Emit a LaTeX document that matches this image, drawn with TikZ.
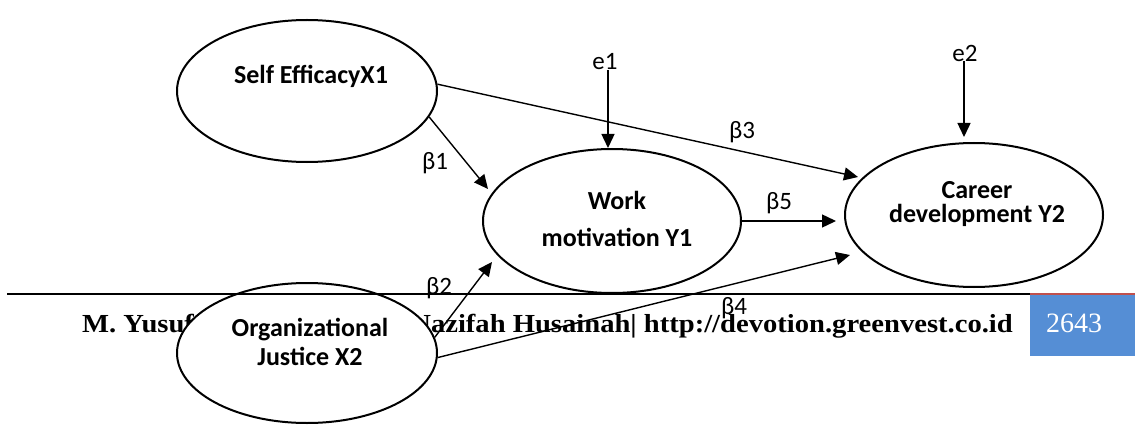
\documentclass[tikz,border=0pt]{standalone}
\usepackage{fontspec}
\setmainfont{Carlito}
\newfontfamily\footfont{Liberation Serif}
\usetikzlibrary{arrows.meta,shapes.geometric}
\definecolor{pgblue}{HTML}{558ED5}
\definecolor{pgred}{HTML}{C0504D}
\tikzset{
  latent/.style={ellipse,draw=black,line width=2pt,fill=white,inner sep=0pt},
  lbl/.style={font=\fontsize{26}{30}\selectfont\bfseries,align=center,inner sep=0pt},
  coef/.style={font=\fontsize{25}{30}\selectfont,inner sep=0pt},
  path arrow/.style={line width=1.4pt,-{Triangle[length=14pt,width=13pt]}},
  foot/.style={font=\footfont\fontsize{26}{28}\selectfont\bfseries,inner sep=0pt,anchor=base west}
}
\begin{document}
\begin{tikzpicture}[x=1pt,y=-1pt]
\useasboundingbox (0,0) rectangle (1135,425);
% footer text (behind)
\node[foot] (f1) at (82,332) {\scalebox{1.1}[1]{M. Yusuf}};
\node[foot,anchor=base east] (f2) at (1013,332) {\scalebox{1.1}[1]{Nazifah Husainah| http://devotion.greenvest.co.id}};
% latent variables
\node[latent,minimum width=260pt,minimum height=142pt] (se) at (307,91) {};
\node[latent,minimum width=258pt,minimum height=144pt] (wm) at (612,221) {};
\node[latent,minimum width=258pt,minimum height=144pt] (cd) at (974,215) {};
\node[latent,minimum width=260pt,minimum height=140pt] (oj) at (307,353) {};
% labels
\node[lbl] (tse) at (311,76) {Self EfficacyX1};
\node[lbl] (twm1) at (617,200) {Work};
\node[lbl] (twm2) at (617,237) {motivation Y1};
\node[lbl] (tcd1) at (977,190) {Career};
\begin{scope}
\clip (880,195) rectangle (1065,240);
\node[lbl] (tcd2) at (977,215) {development Y2};
\end{scope}
\node[lbl] (toj1) at (310,330) {Organizational};
\node[lbl] (toj2) at (310,356) {Justice X2};
% footer rule and page number box
\draw[line width=2pt] (7,294) -- (1030,294);
\fill[pgblue] (1030,293) rectangle (1135,356);
\fill[pgred] (1030,292.5) rectangle (1135,295);
\node[font=\footfont\fontsize{28}{30}\selectfont,text=white,inner sep=0pt] (pg) at (1074,323) {2643};
% error terms
\node[coef] (e1) at (605,62) {e1};
\node[coef] (e2) at (965,53) {e2};
\coordinate (e1t) at (608,148);
\coordinate (e2t) at (964,137);
\draw[path arrow] (e1.south -| e1t) -- (e1t);
\draw[path arrow] (e2.south -| e2t) -- (e2t);
% paths
\coordinate (t1) at (488,189);
\coordinate (t2) at (492,262);
\coordinate (t3) at (858,177);
\coordinate (t4) at (850,255);
\coordinate (t5) at (836,221);
\draw[path arrow] (se.-12.5) -- (t1);
\draw[path arrow] (oj.7) -- (t2);
\draw[path arrow] (se.3) -- (t3);
\draw[path arrow] (oj.-2) -- (t4);
\draw[path arrow] (wm.east) -- (t5);
\node[coef] (b1) at (435,163) {β1};
\node[coef] (b2) at (439,288) {β2};
\node[coef] (b3) at (742,132) {β3};
\node[coef] (b4) at (734,308) {β4};
\node[coef] (b5) at (779,203) {β5};
\end{tikzpicture}
\end{document}
